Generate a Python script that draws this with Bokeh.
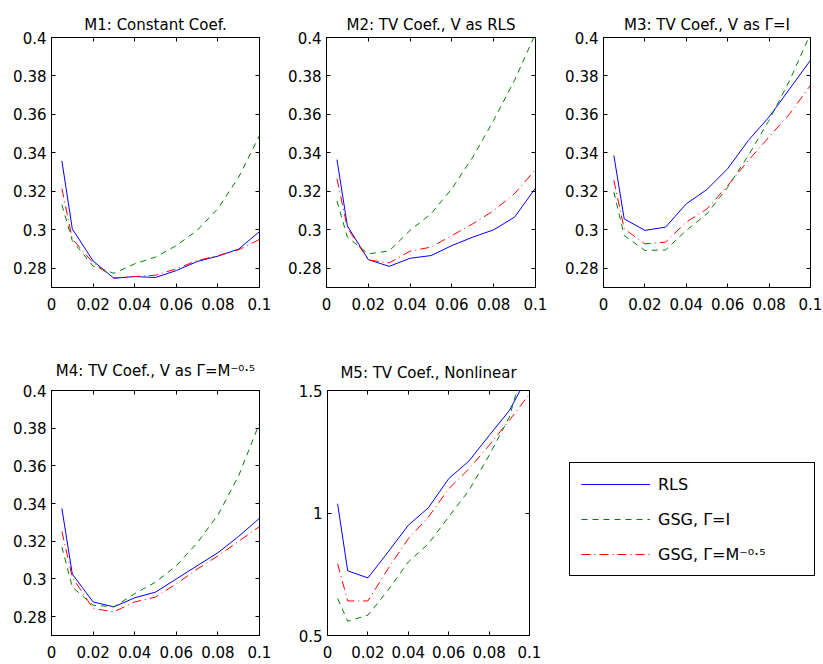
from bokeh.plotting import figure
from bokeh.models import (LinearAxis, FixedTicker, CustomJSTickFormatter, Range1d,
                          Legend, LegendItem)
from bokeh.layouts import column, row
from bokeh.embed import file_html
from bokeh.resources import INLINE

# ---------------- data ----------------
x = [0.005, 0.01, 0.02, 0.03, 0.04, 0.05, 0.06, 0.07, 0.08, 0.09, 0.1]
x_ticks = [0, 0.02, 0.04, 0.06, 0.08, 0.1]
y_ticks_a = [0.28, 0.3, 0.32, 0.34, 0.36, 0.38, 0.4]
y_ticks_b = [0.5, 1, 1.5]

titles = ["M1: Constant Coef.",
          "M2: TV Coef., V as RLS",
          "M3: TV Coef., V as Γ=I",
          "M4: TV Coef., V as Γ=M⁻⁰·⁵",
          "M5: TV Coef., Nonlinear"]
series_names = ["RLS", "GSG, Γ=I", "GSG, Γ=M⁻⁰·⁵"]

m1_rls = [0.3358, 0.3005, 0.2838, 0.2748, 0.2757, 0.2752, 0.2788, 0.2835, 0.2863, 0.2900, 0.2991]
m1_gi  = [0.3130, 0.2944, 0.2811, 0.2774, 0.2823, 0.2858, 0.2918, 0.2997, 0.3110, 0.3274, 0.3490]
m1_gm  = [0.3214, 0.2953, 0.2828, 0.2750, 0.2757, 0.2764, 0.2797, 0.2840, 0.2866, 0.2896, 0.2950]

m2_rls = [0.3365, 0.3020, 0.2845, 0.2810, 0.2852, 0.2866, 0.2918, 0.2962, 0.3000, 0.3066, 0.3217]
m2_gi  = [0.3150, 0.2962, 0.2875, 0.2890, 0.2997, 0.3083, 0.3214, 0.3378, 0.3570, 0.3778, 0.4020]
m2_gm  = [0.3266, 0.3010, 0.2843, 0.2828, 0.2889, 0.2910, 0.2970, 0.3031, 0.3100, 0.3188, 0.3313]

m3_rls = [0.3387, 0.3057, 0.2997, 0.3014, 0.3135, 0.3210, 0.3318, 0.3465, 0.3587, 0.3734, 0.3882]
m3_gi  = [0.3196, 0.2970, 0.2893, 0.2895, 0.2997, 0.3083, 0.3222, 0.3387, 0.3570, 0.3778, 0.4020]
m3_gm  = [0.3257, 0.3005, 0.2927, 0.2936, 0.3040, 0.3109, 0.3230, 0.3361, 0.3483, 0.3604, 0.3752]

m4_rls = [0.3374, 0.3026, 0.2878, 0.2852, 0.2900, 0.2930, 0.3000, 0.3070, 0.3139, 0.3226, 0.3322]
m4_gi  = [0.3170, 0.2957, 0.2861, 0.2852, 0.2922, 0.2983, 0.3070, 0.3191, 0.3339, 0.3548, 0.3826]
m4_gm  = [0.3252, 0.3009, 0.2843, 0.2826, 0.2878, 0.2904, 0.2974, 0.3052, 0.3122, 0.3200, 0.3278]

m5_rls = [1.038, 0.764, 0.735, 0.841, 0.950, 1.022, 1.140, 1.212, 1.316, 1.418, 1.570]
m5_gi  = [0.651, 0.558, 0.583, 0.685, 0.800, 0.875, 0.984, 1.092, 1.235, 1.391, 1.680]
m5_gm  = [0.793, 0.641, 0.641, 0.773, 0.895, 0.984, 1.099, 1.180, 1.276, 1.378, 1.486]

# ---------------- styling ----------------
FONT = "DejaVu Sans"
TICK_FS = "15px"
TITLE_FS = "15px"
LEG_FS = "16px"
COLORS = ["#0000ff", "#008000", "#ff0000"]
DASHES = ["solid", "6 5", "9 4 1 4"]

fmt = CustomJSTickFormatter(code="return Number(tick.toFixed(4)).toString();")


def style_axis(ax, ticks, labels=True, standoff=5):
    ax.ticker = FixedTicker(ticks=ticks)
    ax.formatter = fmt
    ax.major_tick_in = 4
    ax.major_tick_out = 0
    ax.minor_tick_line_color = None
    ax.axis_line_color = "black"
    ax.major_tick_line_color = "black"
    ax.axis_label = None
    if labels:
        ax.major_label_text_font = FONT
        ax.major_label_text_font_size = TICK_FS
        ax.major_label_text_color = "black"
        ax.major_label_standoff = standoff
    else:
        ax.major_label_text_font_size = "1px"
        ax.major_label_text_color = None
        ax.major_label_standoff = 0


def panel(title, ys, y_lo, y_hi, y_ticks, left, fw, right, top, fh, bottom, title_standoff):
    p = figure(width=left + fw + right, height=top + fh + bottom,
               min_border_left=left, min_border_right=right,
               min_border_top=top, min_border_bottom=bottom,
               x_range=Range1d(0, 0.1), y_range=Range1d(y_lo, y_hi),
               output_backend="svg", toolbar_location=None, title=title)
    p.title.text_font = FONT
    p.title.text_font_size = TITLE_FS
    p.title.text_font_style = "normal"
    p.title.text_color = "black"
    p.title.align = "center"
    p.title.standoff = title_standoff
    p.grid.visible = False
    p.outline_line_color = "black"
    p.outline_line_alpha = 1
    p.background_fill_color = "white"
    p.border_fill_color = "white"
    style_axis(p.xaxis[0], x_ticks, standoff=10)
    style_axis(p.yaxis[0], y_ticks, standoff=5)
    top_ax = LinearAxis()
    style_axis(top_ax, x_ticks, labels=False)
    p.add_layout(top_ax, "above")
    right_ax = LinearAxis()
    style_axis(right_ax, y_ticks, labels=False)
    p.add_layout(right_ax, "right")
    for yv, c, d in zip(ys, COLORS, DASHES):
        p.line(x, yv, line_color=c, line_width=1, line_dash=d)
    return p


p1 = panel(titles[0], [m1_rls, m1_gi, m1_gm], 0.27, 0.4, y_ticks_a, 51, 208, 16, 37, 250, 50, 8)
p2 = panel(titles[1], [m2_rls, m2_gi, m2_gm], 0.27, 0.4, y_ticks_a, 51, 209, 15, 37, 250, 50, 8)
p3 = panel(titles[2], [m3_rls, m3_gi, m3_gm], 0.27, 0.4, y_ticks_a, 53, 207, 13, 37, 250, 50, 8)
p4 = panel(titles[3], [m4_rls, m4_gi, m4_gm], 0.27, 0.4, y_ticks_a, 51, 208, 16, 53, 245, 29, 22)
p5 = panel(titles[4], [m5_rls, m5_gi, m5_gm], 0.5, 1.5, y_ticks_b, 52, 202, 21, 53, 245, 29, 17)

# legend panel (to the right of M5); its renderers are hidden copies of the M5 series
pl = figure(width=273, height=327, min_border=0, min_border_top=53, min_border_bottom=29,
            x_range=Range1d(0, 0.1), y_range=Range1d(0.5, 1.5),
            output_backend="svg", toolbar_location=None,
            x_axis_location=None, y_axis_location=None)
pl.grid.visible = False
pl.outline_line_color = None
pl.background_fill_color = "white"
pl.border_fill_color = "white"
items = []
for name, yv, c, d in zip(series_names, [m5_rls, m5_gi, m5_gm], COLORS, DASHES):
    r = pl.line(x, yv, line_color=c, line_width=1, line_dash=d, visible=False)
    items.append(LegendItem(label=name, renderers=[r]))
leg = Legend(items=items, location=(19, 59))
leg.click_policy = "none"
leg.border_line_color = "black"
leg.border_line_width = 1
leg.border_line_alpha = 1
leg.background_fill_color = "white"
leg.background_fill_alpha = 1
leg.label_text_font = FONT
leg.label_text_font_size = LEG_FS
leg.label_text_color = "black"
leg.glyph_width = 69
leg.glyph_height = 20
leg.label_height = 20
leg.label_width = 145
leg.label_standoff = 8
leg.spacing = 15
leg.padding = 11
leg.margin = 0
pl.add_layout(leg, "center")

layout = column(row(p1, p2, p3), row(p4, p5, pl))
open("out.html", "w").write(file_html(layout, INLINE))
